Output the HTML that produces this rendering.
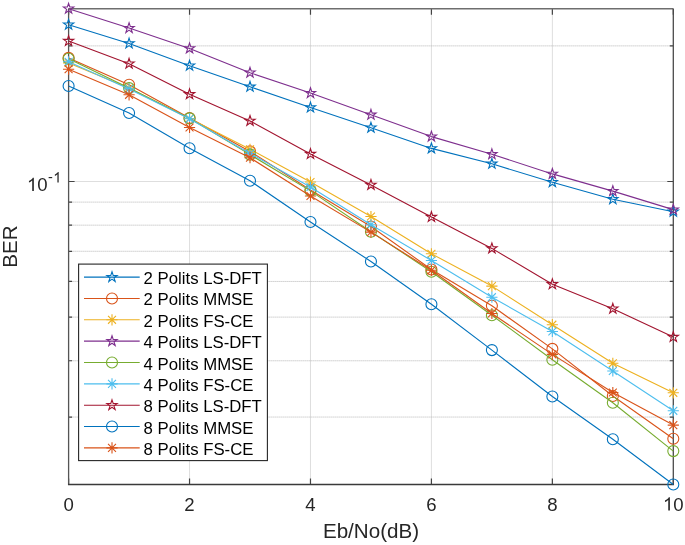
<!DOCTYPE html>
<html><head><meta charset="utf-8"><style>
html,body{margin:0;padding:0;background:#fff;}
body{width:685px;height:545px;overflow:hidden;font-family:"Liberation Sans",sans-serif;}
svg{display:block;will-change:transform;}
</style></head><body>
<svg width="685" height="545" viewBox="0 0 685 545">
<rect width="685" height="545" fill="#fff"/>
<line x1="189.54" y1="8.7" x2="189.54" y2="484.5" stroke="#dedede" stroke-width="1"/>
<line x1="310.48" y1="8.7" x2="310.48" y2="484.5" stroke="#dedede" stroke-width="1"/>
<line x1="431.42" y1="8.7" x2="431.42" y2="484.5" stroke="#dedede" stroke-width="1"/>
<line x1="552.36" y1="8.7" x2="552.36" y2="484.5" stroke="#dedede" stroke-width="1"/>
<line x1="68.6" y1="181.5" x2="673.3" y2="181.5" stroke="#dedede" stroke-width="1"/>
<line x1="68.6" y1="45.89" x2="673.3" y2="45.89" stroke="#b4b4b4" stroke-width="1" stroke-dasharray="1 1"/>
<line x1="68.6" y1="202.11" x2="673.3" y2="202.11" stroke="#b4b4b4" stroke-width="1" stroke-dasharray="1 1"/>
<line x1="68.6" y1="225.16" x2="673.3" y2="225.16" stroke="#b4b4b4" stroke-width="1" stroke-dasharray="1 1"/>
<line x1="68.6" y1="251.28" x2="673.3" y2="251.28" stroke="#b4b4b4" stroke-width="1" stroke-dasharray="1 1"/>
<line x1="68.6" y1="281.44" x2="673.3" y2="281.44" stroke="#b4b4b4" stroke-width="1" stroke-dasharray="1 1"/>
<line x1="68.6" y1="317.11" x2="673.3" y2="317.11" stroke="#b4b4b4" stroke-width="1" stroke-dasharray="1 1"/>
<line x1="68.6" y1="360.77" x2="673.3" y2="360.77" stroke="#b4b4b4" stroke-width="1" stroke-dasharray="1 1"/>
<line x1="68.6" y1="417.06" x2="673.3" y2="417.06" stroke="#b4b4b4" stroke-width="1" stroke-dasharray="1 1"/>
<path d="M68.6 484.5V478.5M68.6 8.7V14.7M189.54 484.5V478.5M189.54 8.7V14.7M310.48 484.5V478.5M310.48 8.7V14.7M431.42 484.5V478.5M431.42 8.7V14.7M552.36 484.5V478.5M552.36 8.7V14.7M673.3 484.5V478.5M673.3 8.7V14.7M68.6 181.5H74.6M673.3 181.5H667.3M68.6 45.89H72.1M673.3 45.89H669.8M68.6 202.11H72.1M673.3 202.11H669.8M68.6 225.16H72.1M673.3 225.16H669.8M68.6 251.28H72.1M673.3 251.28H669.8M68.6 281.44H72.1M673.3 281.44H669.8M68.6 317.11H72.1M673.3 317.11H669.8M68.6 360.77H72.1M673.3 360.77H669.8M68.6 417.06H72.1M673.3 417.06H669.8" stroke="#444" stroke-width="1.2" fill="none"/>
<line x1="68.6" y1="8.7" x2="673.3" y2="8.7" stroke="#6e6e6e" stroke-width="1.5"/>
<line x1="673.3" y1="8.7" x2="673.3" y2="484.5" stroke="#4a4a4a" stroke-width="1.3"/>
<line x1="68.6" y1="8.7" x2="68.6" y2="484.5" stroke="#555555" stroke-width="1.3"/>
<line x1="67.95" y1="484.5" x2="673.95" y2="484.5" stroke="#3a3a3a" stroke-width="1.4"/>
<polyline points="68.6,24.7 129.07,43.5 189.54,65.7 250.01,86.8 310.48,107.5 370.95,127.7 431.42,148.4 491.89,163.8 552.36,182.2 612.83,199.3 673.3,211.7" fill="none" stroke="#0072BD" stroke-width="1.1" stroke-linejoin="round"/>
<polygon points="68.6,19.3 69.81,23.03 73.74,23.03 70.56,25.34 71.77,29.07 68.6,26.76 65.43,29.07 66.64,25.34 63.46,23.03 67.39,23.03" fill="none" stroke="#0072BD" stroke-width="1.1" stroke-linejoin="miter"/>
<polygon points="129.07,38.1 130.28,41.83 134.21,41.83 131.03,44.14 132.24,47.87 129.07,45.56 125.9,47.87 127.11,44.14 123.93,41.83 127.86,41.83" fill="none" stroke="#0072BD" stroke-width="1.1" stroke-linejoin="miter"/>
<polygon points="189.54,60.3 190.75,64.03 194.68,64.03 191.5,66.34 192.71,70.07 189.54,67.76 186.37,70.07 187.58,66.34 184.4,64.03 188.33,64.03" fill="none" stroke="#0072BD" stroke-width="1.1" stroke-linejoin="miter"/>
<polygon points="250.01,81.4 251.22,85.13 255.15,85.13 251.97,87.44 253.18,91.17 250.01,88.86 246.84,91.17 248.05,87.44 244.87,85.13 248.8,85.13" fill="none" stroke="#0072BD" stroke-width="1.1" stroke-linejoin="miter"/>
<polygon points="310.48,102.1 311.69,105.83 315.62,105.83 312.44,108.14 313.65,111.87 310.48,109.56 307.31,111.87 308.52,108.14 305.34,105.83 309.27,105.83" fill="none" stroke="#0072BD" stroke-width="1.1" stroke-linejoin="miter"/>
<polygon points="370.95,122.3 372.16,126.03 376.09,126.03 372.91,128.34 374.12,132.07 370.95,129.76 367.78,132.07 368.99,128.34 365.81,126.03 369.74,126.03" fill="none" stroke="#0072BD" stroke-width="1.1" stroke-linejoin="miter"/>
<polygon points="431.42,143 432.63,146.73 436.56,146.73 433.38,149.04 434.59,152.77 431.42,150.46 428.25,152.77 429.46,149.04 426.28,146.73 430.21,146.73" fill="none" stroke="#0072BD" stroke-width="1.1" stroke-linejoin="miter"/>
<polygon points="491.89,158.4 493.1,162.13 497.03,162.13 493.85,164.44 495.06,168.17 491.89,165.86 488.72,168.17 489.93,164.44 486.75,162.13 490.68,162.13" fill="none" stroke="#0072BD" stroke-width="1.1" stroke-linejoin="miter"/>
<polygon points="552.36,176.8 553.57,180.53 557.5,180.53 554.32,182.84 555.53,186.57 552.36,184.26 549.19,186.57 550.4,182.84 547.22,180.53 551.15,180.53" fill="none" stroke="#0072BD" stroke-width="1.1" stroke-linejoin="miter"/>
<polygon points="612.83,193.9 614.04,197.63 617.97,197.63 614.79,199.94 616,203.67 612.83,201.36 609.66,203.67 610.87,199.94 607.69,197.63 611.62,197.63" fill="none" stroke="#0072BD" stroke-width="1.1" stroke-linejoin="miter"/>
<polygon points="673.3,206.3 674.51,210.03 678.44,210.03 675.26,212.34 676.47,216.07 673.3,213.76 670.13,216.07 671.34,212.34 668.16,210.03 672.09,210.03" fill="none" stroke="#0072BD" stroke-width="1.1" stroke-linejoin="miter"/>
<polyline points="68.6,57.9 129.07,84.7 189.54,118.1 250.01,151.4 310.48,190 370.95,226.5 431.42,269.5 491.89,305.8 552.36,348.9 612.83,396 673.3,438.8" fill="none" stroke="#D95319" stroke-width="1.1" stroke-linejoin="round"/>
<circle cx="68.6" cy="57.9" r="5.5" fill="none" stroke="#D95319" stroke-width="1.1"/>
<circle cx="129.07" cy="84.7" r="5.5" fill="none" stroke="#D95319" stroke-width="1.1"/>
<circle cx="189.54" cy="118.1" r="5.5" fill="none" stroke="#D95319" stroke-width="1.1"/>
<circle cx="250.01" cy="151.4" r="5.5" fill="none" stroke="#D95319" stroke-width="1.1"/>
<circle cx="310.48" cy="190" r="5.5" fill="none" stroke="#D95319" stroke-width="1.1"/>
<circle cx="370.95" cy="226.5" r="5.5" fill="none" stroke="#D95319" stroke-width="1.1"/>
<circle cx="431.42" cy="269.5" r="5.5" fill="none" stroke="#D95319" stroke-width="1.1"/>
<circle cx="491.89" cy="305.8" r="5.5" fill="none" stroke="#D95319" stroke-width="1.1"/>
<circle cx="552.36" cy="348.9" r="5.5" fill="none" stroke="#D95319" stroke-width="1.1"/>
<circle cx="612.83" cy="396" r="5.5" fill="none" stroke="#D95319" stroke-width="1.1"/>
<circle cx="673.3" cy="438.8" r="5.5" fill="none" stroke="#D95319" stroke-width="1.1"/>
<polyline points="68.6,62.9 129.07,88 189.54,118.5 250.01,149.3 310.48,182 370.95,216.5 431.42,253.8 491.89,286.1 552.36,324.7 612.83,363.3 673.3,392.8" fill="none" stroke="#EDB120" stroke-width="1.1" stroke-linejoin="round"/>
<path d="M63 62.9H74.2M68.6 57.3V68.5M64.64 58.94L72.56 66.86M64.64 66.86L72.56 58.94" stroke="#EDB120" stroke-width="1.1" fill="none"/>
<path d="M123.47 88H134.67M129.07 82.4V93.6M125.11 84.04L133.03 91.96M125.11 91.96L133.03 84.04" stroke="#EDB120" stroke-width="1.1" fill="none"/>
<path d="M183.94 118.5H195.14M189.54 112.9V124.1M185.58 114.54L193.5 122.46M185.58 122.46L193.5 114.54" stroke="#EDB120" stroke-width="1.1" fill="none"/>
<path d="M244.41 149.3H255.61M250.01 143.7V154.9M246.05 145.34L253.97 153.26M246.05 153.26L253.97 145.34" stroke="#EDB120" stroke-width="1.1" fill="none"/>
<path d="M304.88 182H316.08M310.48 176.4V187.6M306.52 178.04L314.44 185.96M306.52 185.96L314.44 178.04" stroke="#EDB120" stroke-width="1.1" fill="none"/>
<path d="M365.35 216.5H376.55M370.95 210.9V222.1M366.99 212.54L374.91 220.46M366.99 220.46L374.91 212.54" stroke="#EDB120" stroke-width="1.1" fill="none"/>
<path d="M425.82 253.8H437.02M431.42 248.2V259.4M427.46 249.84L435.38 257.76M427.46 257.76L435.38 249.84" stroke="#EDB120" stroke-width="1.1" fill="none"/>
<path d="M486.29 286.1H497.49M491.89 280.5V291.7M487.93 282.14L495.85 290.06M487.93 290.06L495.85 282.14" stroke="#EDB120" stroke-width="1.1" fill="none"/>
<path d="M546.76 324.7H557.96M552.36 319.1V330.3M548.4 320.74L556.32 328.66M548.4 328.66L556.32 320.74" stroke="#EDB120" stroke-width="1.1" fill="none"/>
<path d="M607.23 363.3H618.43M612.83 357.7V368.9M608.87 359.34L616.79 367.26M608.87 367.26L616.79 359.34" stroke="#EDB120" stroke-width="1.1" fill="none"/>
<path d="M667.7 392.8H678.9M673.3 387.2V398.4M669.34 388.84L677.26 396.76M669.34 396.76L677.26 388.84" stroke="#EDB120" stroke-width="1.1" fill="none"/>
<polyline points="68.6,8.7 129.07,28.1 189.54,48.4 250.01,72.7 310.48,93.1 370.95,114.8 431.42,136.6 491.89,154.3 552.36,173.9 612.83,191.1 673.3,209.6" fill="none" stroke="#7E2F8E" stroke-width="1.1" stroke-linejoin="round"/>
<polygon points="68.6,3.3 69.81,7.03 73.74,7.03 70.56,9.34 71.77,13.07 68.6,10.76 65.43,13.07 66.64,9.34 63.46,7.03 67.39,7.03" fill="none" stroke="#7E2F8E" stroke-width="1.1" stroke-linejoin="miter"/>
<polygon points="129.07,22.7 130.28,26.43 134.21,26.43 131.03,28.74 132.24,32.47 129.07,30.16 125.9,32.47 127.11,28.74 123.93,26.43 127.86,26.43" fill="none" stroke="#7E2F8E" stroke-width="1.1" stroke-linejoin="miter"/>
<polygon points="189.54,43 190.75,46.73 194.68,46.73 191.5,49.04 192.71,52.77 189.54,50.46 186.37,52.77 187.58,49.04 184.4,46.73 188.33,46.73" fill="none" stroke="#7E2F8E" stroke-width="1.1" stroke-linejoin="miter"/>
<polygon points="250.01,67.3 251.22,71.03 255.15,71.03 251.97,73.34 253.18,77.07 250.01,74.76 246.84,77.07 248.05,73.34 244.87,71.03 248.8,71.03" fill="none" stroke="#7E2F8E" stroke-width="1.1" stroke-linejoin="miter"/>
<polygon points="310.48,87.7 311.69,91.43 315.62,91.43 312.44,93.74 313.65,97.47 310.48,95.16 307.31,97.47 308.52,93.74 305.34,91.43 309.27,91.43" fill="none" stroke="#7E2F8E" stroke-width="1.1" stroke-linejoin="miter"/>
<polygon points="370.95,109.4 372.16,113.13 376.09,113.13 372.91,115.44 374.12,119.17 370.95,116.86 367.78,119.17 368.99,115.44 365.81,113.13 369.74,113.13" fill="none" stroke="#7E2F8E" stroke-width="1.1" stroke-linejoin="miter"/>
<polygon points="431.42,131.2 432.63,134.93 436.56,134.93 433.38,137.24 434.59,140.97 431.42,138.66 428.25,140.97 429.46,137.24 426.28,134.93 430.21,134.93" fill="none" stroke="#7E2F8E" stroke-width="1.1" stroke-linejoin="miter"/>
<polygon points="491.89,148.9 493.1,152.63 497.03,152.63 493.85,154.94 495.06,158.67 491.89,156.36 488.72,158.67 489.93,154.94 486.75,152.63 490.68,152.63" fill="none" stroke="#7E2F8E" stroke-width="1.1" stroke-linejoin="miter"/>
<polygon points="552.36,168.5 553.57,172.23 557.5,172.23 554.32,174.54 555.53,178.27 552.36,175.96 549.19,178.27 550.4,174.54 547.22,172.23 551.15,172.23" fill="none" stroke="#7E2F8E" stroke-width="1.1" stroke-linejoin="miter"/>
<polygon points="612.83,185.7 614.04,189.43 617.97,189.43 614.79,191.74 616,195.47 612.83,193.16 609.66,195.47 610.87,191.74 607.69,189.43 611.62,189.43" fill="none" stroke="#7E2F8E" stroke-width="1.1" stroke-linejoin="miter"/>
<polygon points="673.3,204.2 674.51,207.93 678.44,207.93 675.26,210.24 676.47,213.97 673.3,211.66 670.13,213.97 671.34,210.24 668.16,207.93 672.09,207.93" fill="none" stroke="#7E2F8E" stroke-width="1.1" stroke-linejoin="miter"/>
<polyline points="68.6,58.7 129.07,88.1 189.54,118.4 250.01,154.6 310.48,190.9 370.95,231.8 431.42,271.7 491.89,315.3 552.36,359.7 612.83,402.8 673.3,451.1" fill="none" stroke="#77AC30" stroke-width="1.1" stroke-linejoin="round"/>
<circle cx="68.6" cy="58.7" r="5.5" fill="none" stroke="#77AC30" stroke-width="1.1"/>
<circle cx="129.07" cy="88.1" r="5.5" fill="none" stroke="#77AC30" stroke-width="1.1"/>
<circle cx="189.54" cy="118.4" r="5.5" fill="none" stroke="#77AC30" stroke-width="1.1"/>
<circle cx="250.01" cy="154.6" r="5.5" fill="none" stroke="#77AC30" stroke-width="1.1"/>
<circle cx="310.48" cy="190.9" r="5.5" fill="none" stroke="#77AC30" stroke-width="1.1"/>
<circle cx="370.95" cy="231.8" r="5.5" fill="none" stroke="#77AC30" stroke-width="1.1"/>
<circle cx="431.42" cy="271.7" r="5.5" fill="none" stroke="#77AC30" stroke-width="1.1"/>
<circle cx="491.89" cy="315.3" r="5.5" fill="none" stroke="#77AC30" stroke-width="1.1"/>
<circle cx="552.36" cy="359.7" r="5.5" fill="none" stroke="#77AC30" stroke-width="1.1"/>
<circle cx="612.83" cy="402.8" r="5.5" fill="none" stroke="#77AC30" stroke-width="1.1"/>
<circle cx="673.3" cy="451.1" r="5.5" fill="none" stroke="#77AC30" stroke-width="1.1"/>
<polyline points="68.6,61.8 129.07,88.9 189.54,118.8 250.01,153.5 310.48,187 370.95,224.8 431.42,260.5 491.89,297.2 552.36,331.5 612.83,371 673.3,410.8" fill="none" stroke="#4DBEEE" stroke-width="1.1" stroke-linejoin="round"/>
<path d="M63 61.8H74.2M68.6 56.2V67.4M64.64 57.84L72.56 65.76M64.64 65.76L72.56 57.84" stroke="#4DBEEE" stroke-width="1.1" fill="none"/>
<path d="M123.47 88.9H134.67M129.07 83.3V94.5M125.11 84.94L133.03 92.86M125.11 92.86L133.03 84.94" stroke="#4DBEEE" stroke-width="1.1" fill="none"/>
<path d="M183.94 118.8H195.14M189.54 113.2V124.4M185.58 114.84L193.5 122.76M185.58 122.76L193.5 114.84" stroke="#4DBEEE" stroke-width="1.1" fill="none"/>
<path d="M244.41 153.5H255.61M250.01 147.9V159.1M246.05 149.54L253.97 157.46M246.05 157.46L253.97 149.54" stroke="#4DBEEE" stroke-width="1.1" fill="none"/>
<path d="M304.88 187H316.08M310.48 181.4V192.6M306.52 183.04L314.44 190.96M306.52 190.96L314.44 183.04" stroke="#4DBEEE" stroke-width="1.1" fill="none"/>
<path d="M365.35 224.8H376.55M370.95 219.2V230.4M366.99 220.84L374.91 228.76M366.99 228.76L374.91 220.84" stroke="#4DBEEE" stroke-width="1.1" fill="none"/>
<path d="M425.82 260.5H437.02M431.42 254.9V266.1M427.46 256.54L435.38 264.46M427.46 264.46L435.38 256.54" stroke="#4DBEEE" stroke-width="1.1" fill="none"/>
<path d="M486.29 297.2H497.49M491.89 291.6V302.8M487.93 293.24L495.85 301.16M487.93 301.16L495.85 293.24" stroke="#4DBEEE" stroke-width="1.1" fill="none"/>
<path d="M546.76 331.5H557.96M552.36 325.9V337.1M548.4 327.54L556.32 335.46M548.4 335.46L556.32 327.54" stroke="#4DBEEE" stroke-width="1.1" fill="none"/>
<path d="M607.23 371H618.43M612.83 365.4V376.6M608.87 367.04L616.79 374.96M608.87 374.96L616.79 367.04" stroke="#4DBEEE" stroke-width="1.1" fill="none"/>
<path d="M667.7 410.8H678.9M673.3 405.2V416.4M669.34 406.84L677.26 414.76M669.34 414.76L677.26 406.84" stroke="#4DBEEE" stroke-width="1.1" fill="none"/>
<polyline points="68.6,41 129.07,63.7 189.54,94.3 250.01,120.9 310.48,154 370.95,184.9 431.42,217 491.89,248.4 552.36,284.3 612.83,308.7 673.3,337" fill="none" stroke="#A2142F" stroke-width="1.1" stroke-linejoin="round"/>
<polygon points="68.6,35.6 69.81,39.33 73.74,39.33 70.56,41.64 71.77,45.37 68.6,43.06 65.43,45.37 66.64,41.64 63.46,39.33 67.39,39.33" fill="none" stroke="#A2142F" stroke-width="1.1" stroke-linejoin="miter"/>
<polygon points="129.07,58.3 130.28,62.03 134.21,62.03 131.03,64.34 132.24,68.07 129.07,65.76 125.9,68.07 127.11,64.34 123.93,62.03 127.86,62.03" fill="none" stroke="#A2142F" stroke-width="1.1" stroke-linejoin="miter"/>
<polygon points="189.54,88.9 190.75,92.63 194.68,92.63 191.5,94.94 192.71,98.67 189.54,96.36 186.37,98.67 187.58,94.94 184.4,92.63 188.33,92.63" fill="none" stroke="#A2142F" stroke-width="1.1" stroke-linejoin="miter"/>
<polygon points="250.01,115.5 251.22,119.23 255.15,119.23 251.97,121.54 253.18,125.27 250.01,122.96 246.84,125.27 248.05,121.54 244.87,119.23 248.8,119.23" fill="none" stroke="#A2142F" stroke-width="1.1" stroke-linejoin="miter"/>
<polygon points="310.48,148.6 311.69,152.33 315.62,152.33 312.44,154.64 313.65,158.37 310.48,156.06 307.31,158.37 308.52,154.64 305.34,152.33 309.27,152.33" fill="none" stroke="#A2142F" stroke-width="1.1" stroke-linejoin="miter"/>
<polygon points="370.95,179.5 372.16,183.23 376.09,183.23 372.91,185.54 374.12,189.27 370.95,186.96 367.78,189.27 368.99,185.54 365.81,183.23 369.74,183.23" fill="none" stroke="#A2142F" stroke-width="1.1" stroke-linejoin="miter"/>
<polygon points="431.42,211.6 432.63,215.33 436.56,215.33 433.38,217.64 434.59,221.37 431.42,219.06 428.25,221.37 429.46,217.64 426.28,215.33 430.21,215.33" fill="none" stroke="#A2142F" stroke-width="1.1" stroke-linejoin="miter"/>
<polygon points="491.89,243 493.1,246.73 497.03,246.73 493.85,249.04 495.06,252.77 491.89,250.46 488.72,252.77 489.93,249.04 486.75,246.73 490.68,246.73" fill="none" stroke="#A2142F" stroke-width="1.1" stroke-linejoin="miter"/>
<polygon points="552.36,278.9 553.57,282.63 557.5,282.63 554.32,284.94 555.53,288.67 552.36,286.36 549.19,288.67 550.4,284.94 547.22,282.63 551.15,282.63" fill="none" stroke="#A2142F" stroke-width="1.1" stroke-linejoin="miter"/>
<polygon points="612.83,303.3 614.04,307.03 617.97,307.03 614.79,309.34 616,313.07 612.83,310.76 609.66,313.07 610.87,309.34 607.69,307.03 611.62,307.03" fill="none" stroke="#A2142F" stroke-width="1.1" stroke-linejoin="miter"/>
<polygon points="673.3,331.6 674.51,335.33 678.44,335.33 675.26,337.64 676.47,341.37 673.3,339.06 670.13,341.37 671.34,337.64 668.16,335.33 672.09,335.33" fill="none" stroke="#A2142F" stroke-width="1.1" stroke-linejoin="miter"/>
<polyline points="68.6,86 129.07,113 189.54,148.3 250.01,180.8 310.48,222 370.95,261.5 431.42,304.3 491.89,350.1 552.36,396.5 612.83,439.2 673.3,484.5" fill="none" stroke="#0072BD" stroke-width="1.1" stroke-linejoin="round"/>
<circle cx="68.6" cy="86" r="5.5" fill="none" stroke="#0072BD" stroke-width="1.1"/>
<circle cx="129.07" cy="113" r="5.5" fill="none" stroke="#0072BD" stroke-width="1.1"/>
<circle cx="189.54" cy="148.3" r="5.5" fill="none" stroke="#0072BD" stroke-width="1.1"/>
<circle cx="250.01" cy="180.8" r="5.5" fill="none" stroke="#0072BD" stroke-width="1.1"/>
<circle cx="310.48" cy="222" r="5.5" fill="none" stroke="#0072BD" stroke-width="1.1"/>
<circle cx="370.95" cy="261.5" r="5.5" fill="none" stroke="#0072BD" stroke-width="1.1"/>
<circle cx="431.42" cy="304.3" r="5.5" fill="none" stroke="#0072BD" stroke-width="1.1"/>
<circle cx="491.89" cy="350.1" r="5.5" fill="none" stroke="#0072BD" stroke-width="1.1"/>
<circle cx="552.36" cy="396.5" r="5.5" fill="none" stroke="#0072BD" stroke-width="1.1"/>
<circle cx="612.83" cy="439.2" r="5.5" fill="none" stroke="#0072BD" stroke-width="1.1"/>
<circle cx="673.3" cy="484.5" r="5.5" fill="none" stroke="#0072BD" stroke-width="1.1"/>
<polyline points="68.6,69.2 129.07,94.8 189.54,127.5 250.01,157.7 310.48,196 370.95,232.1 431.42,270.3 491.89,313.5 552.36,354.4 612.83,392.5 673.3,425.1" fill="none" stroke="#D95319" stroke-width="1.1" stroke-linejoin="round"/>
<path d="M63 69.2H74.2M68.6 63.6V74.8M64.64 65.24L72.56 73.16M64.64 73.16L72.56 65.24" stroke="#D95319" stroke-width="1.1" fill="none"/>
<path d="M123.47 94.8H134.67M129.07 89.2V100.4M125.11 90.84L133.03 98.76M125.11 98.76L133.03 90.84" stroke="#D95319" stroke-width="1.1" fill="none"/>
<path d="M183.94 127.5H195.14M189.54 121.9V133.1M185.58 123.54L193.5 131.46M185.58 131.46L193.5 123.54" stroke="#D95319" stroke-width="1.1" fill="none"/>
<path d="M244.41 157.7H255.61M250.01 152.1V163.3M246.05 153.74L253.97 161.66M246.05 161.66L253.97 153.74" stroke="#D95319" stroke-width="1.1" fill="none"/>
<path d="M304.88 196H316.08M310.48 190.4V201.6M306.52 192.04L314.44 199.96M306.52 199.96L314.44 192.04" stroke="#D95319" stroke-width="1.1" fill="none"/>
<path d="M365.35 232.1H376.55M370.95 226.5V237.7M366.99 228.14L374.91 236.06M366.99 236.06L374.91 228.14" stroke="#D95319" stroke-width="1.1" fill="none"/>
<path d="M425.82 270.3H437.02M431.42 264.7V275.9M427.46 266.34L435.38 274.26M427.46 274.26L435.38 266.34" stroke="#D95319" stroke-width="1.1" fill="none"/>
<path d="M486.29 313.5H497.49M491.89 307.9V319.1M487.93 309.54L495.85 317.46M487.93 317.46L495.85 309.54" stroke="#D95319" stroke-width="1.1" fill="none"/>
<path d="M546.76 354.4H557.96M552.36 348.8V360M548.4 350.44L556.32 358.36M548.4 358.36L556.32 350.44" stroke="#D95319" stroke-width="1.1" fill="none"/>
<path d="M607.23 392.5H618.43M612.83 386.9V398.1M608.87 388.54L616.79 396.46M608.87 396.46L616.79 388.54" stroke="#D95319" stroke-width="1.1" fill="none"/>
<path d="M667.7 425.1H678.9M673.3 419.5V430.7M669.34 421.14L677.26 429.06M669.34 429.06L677.26 421.14" stroke="#D95319" stroke-width="1.1" fill="none"/>
<text x="68.6" y="510.5" font-size="18.6" text-anchor="middle" fill="#262626" font-family="Liberation Sans, sans-serif">0</text>
<text x="189.54" y="510.5" font-size="18.6" text-anchor="middle" fill="#262626" font-family="Liberation Sans, sans-serif">2</text>
<text x="310.48" y="510.5" font-size="18.6" text-anchor="middle" fill="#262626" font-family="Liberation Sans, sans-serif">4</text>
<text x="431.42" y="510.5" font-size="18.6" text-anchor="middle" fill="#262626" font-family="Liberation Sans, sans-serif">6</text>
<text x="552.36" y="510.5" font-size="18.6" text-anchor="middle" fill="#262626" font-family="Liberation Sans, sans-serif">8</text>
<path transform="translate(662.96 510.5) scale(0.009082 -0.009082)" d="M763 0H583V1147Q518 1085 412.5 1023Q307 961 223 930V1104Q374 1175 487 1276Q600 1377 647 1472H763Z" fill="#262626"/><text x="673.3" y="510.5" font-size="18.6" fill="#262626" font-family="Liberation Sans, sans-serif">0</text>
<path transform="translate(26.92 191) scale(0.009082 -0.009082)" d="M763 0H583V1147Q518 1085 412.5 1023Q307 961 223 930V1104Q374 1175 487 1276Q600 1377 647 1472H763Z" fill="#262626"/><text x="37.26" y="191" font-size="18.6" fill="#262626" font-family="Liberation Sans, sans-serif">0</text>
<text x="47.9" y="182.4" font-size="14.5" fill="#262626" font-family="Liberation Sans, sans-serif">-</text>
<path transform="translate(53.27 182.4) scale(0.007080 -0.007080)" d="M763 0H583V1147Q518 1085 412.5 1023Q307 961 223 930V1104Q374 1175 487 1276Q600 1377 647 1472H763Z" fill="#262626"/>
<text x="371" y="537.7" font-size="20.6" text-anchor="middle" fill="#262626" font-family="Liberation Sans, sans-serif">Eb/No(dB)</text>
<text transform="translate(17.2 246.6) rotate(-90)" font-size="20.6" text-anchor="middle" fill="#262626" font-family="Liberation Sans, sans-serif">BER</text>
<rect x="78.6" y="264.1" width="188.8" height="196.5" fill="#fff" stroke="#262626" stroke-width="1.1"/>
<line x1="84" y1="277.1" x2="139.7" y2="277.1" stroke="#0072BD" stroke-width="1.1"/>
<polygon points="112,271.7 113.21,275.43 117.14,275.43 113.96,277.74 115.17,281.47 112,279.16 108.83,281.47 110.04,277.74 106.86,275.43 110.79,275.43" fill="none" stroke="#0072BD" stroke-width="1.1" stroke-linejoin="miter"/>
<text x="143.6" y="284.1" font-size="16.75" fill="#000" font-family="Liberation Sans, sans-serif">2 Polits LS-DFT</text>
<line x1="84" y1="298.45" x2="139.7" y2="298.45" stroke="#D95319" stroke-width="1.1"/>
<circle cx="112" cy="298.45" r="5.5" fill="none" stroke="#D95319" stroke-width="1.1"/>
<text x="143.6" y="305.45" font-size="16.75" fill="#000" font-family="Liberation Sans, sans-serif">2 Polits MMSE</text>
<line x1="84" y1="319.8" x2="139.7" y2="319.8" stroke="#EDB120" stroke-width="1.1"/>
<path d="M106.4 319.8H117.6M112 314.2V325.4M108.04 315.84L115.96 323.76M108.04 323.76L115.96 315.84" stroke="#EDB120" stroke-width="1.1" fill="none"/>
<text x="143.6" y="326.8" font-size="16.75" fill="#000" font-family="Liberation Sans, sans-serif">2 Polits FS-CE</text>
<line x1="84" y1="341.15" x2="139.7" y2="341.15" stroke="#7E2F8E" stroke-width="1.1"/>
<polygon points="112,335.75 113.21,339.48 117.14,339.48 113.96,341.79 115.17,345.52 112,343.21 108.83,345.52 110.04,341.79 106.86,339.48 110.79,339.48" fill="none" stroke="#7E2F8E" stroke-width="1.1" stroke-linejoin="miter"/>
<text x="143.6" y="348.15" font-size="16.75" fill="#000" font-family="Liberation Sans, sans-serif">4 Polits LS-DFT</text>
<line x1="84" y1="362.5" x2="139.7" y2="362.5" stroke="#77AC30" stroke-width="1.1"/>
<circle cx="112" cy="362.5" r="5.5" fill="none" stroke="#77AC30" stroke-width="1.1"/>
<text x="143.6" y="369.5" font-size="16.75" fill="#000" font-family="Liberation Sans, sans-serif">4 Polits MMSE</text>
<line x1="84" y1="383.85" x2="139.7" y2="383.85" stroke="#4DBEEE" stroke-width="1.1"/>
<path d="M106.4 383.85H117.6M112 378.25V389.45M108.04 379.89L115.96 387.81M108.04 387.81L115.96 379.89" stroke="#4DBEEE" stroke-width="1.1" fill="none"/>
<text x="143.6" y="390.85" font-size="16.75" fill="#000" font-family="Liberation Sans, sans-serif">4 Polits FS-CE</text>
<line x1="84" y1="405.2" x2="139.7" y2="405.2" stroke="#A2142F" stroke-width="1.1"/>
<polygon points="112,399.8 113.21,403.53 117.14,403.53 113.96,405.84 115.17,409.57 112,407.26 108.83,409.57 110.04,405.84 106.86,403.53 110.79,403.53" fill="none" stroke="#A2142F" stroke-width="1.1" stroke-linejoin="miter"/>
<text x="143.6" y="412.2" font-size="16.75" fill="#000" font-family="Liberation Sans, sans-serif">8 Polits LS-DFT</text>
<line x1="84" y1="426.55" x2="139.7" y2="426.55" stroke="#0072BD" stroke-width="1.1"/>
<circle cx="112" cy="426.55" r="5.5" fill="none" stroke="#0072BD" stroke-width="1.1"/>
<text x="143.6" y="433.55" font-size="16.75" fill="#000" font-family="Liberation Sans, sans-serif">8 Polits MMSE</text>
<line x1="84" y1="447.9" x2="139.7" y2="447.9" stroke="#D95319" stroke-width="1.1"/>
<path d="M106.4 447.9H117.6M112 442.3V453.5M108.04 443.94L115.96 451.86M108.04 451.86L115.96 443.94" stroke="#D95319" stroke-width="1.1" fill="none"/>
<text x="143.6" y="454.9" font-size="16.75" fill="#000" font-family="Liberation Sans, sans-serif">8 Polits FS-CE</text>
</svg>
</body></html>
